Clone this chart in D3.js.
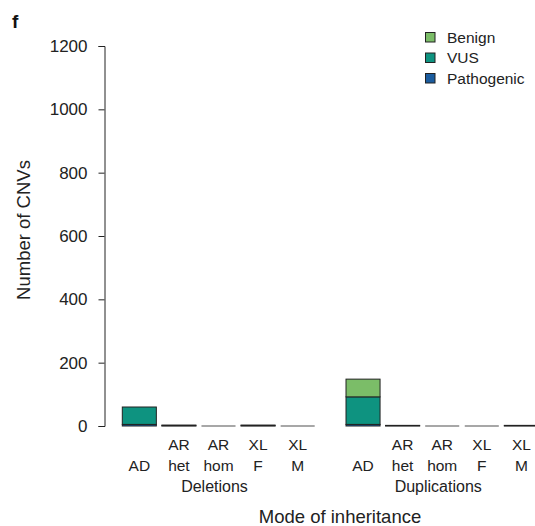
<!DOCTYPE html>
<html>
<head>
<meta charset="utf-8">
<script src="https://cdn.jsdelivr.net/npm/d3@7"></script>
<style>
  html, body { margin: 0; padding: 0; background: #fff; }
  svg { display: block; font-family: "Liberation Sans", Arial, Helvetica, sans-serif; }
</style>
</head>
<body>
<svg id="chart" width="535" height="526"></svg>
<script>
// CNV counts by mode of inheritance, split by deletion / duplication
const groups = ["Deletions", "Duplications"];
const modes = ["AD", "AR het", "AR hom", "XL F", "XL M"];
const modeLines = [["AD"], ["AR", "het"], ["AR", "hom"], ["XL", "F"], ["XL", "M"]];
const classes = ["Pathogenic", "VUS", "Benign"];
const pathogenic = { Deletions: [5, 1, 0, 1, 0], Duplications: [5, 1, 0, 0, 1] };
const vus        = { Deletions: [55, 2, 0, 2, 0], Duplications: [87, 1, 0, 0, 1] };
const benign     = { Deletions: [0, 0, 0, 0, 0], Duplications: [56, 0, 0, 0, 0] };
const yTicks = [0, 200, 400, 600, 800, 1000, 1200];
const colors = { Benign: "#7bbd68", VUS: "#0e9380", Pathogenic: "#1b5c9e" };

const svg = d3.select("#chart");
const ink = "#222";

const y = d3.scaleLinear().domain([0, 1200]).range([426, 46]);
const xGroup = d3.scaleBand().domain(groups).range([122.3, 538.4]).paddingInner(0.14);
const xMode = d3.scaleBand().domain(modes).range([0, xGroup.bandwidth()]).paddingInner(0.14);

// rows of stacked values
const rows = [];
groups.forEach(g => modes.forEach((m, i) => {
  rows.push({ group: g, mode: m, Pathogenic: pathogenic[g][i], VUS: vus[g][i], Benign: benign[g][i] });
}));
const stacked = d3.stack().keys(classes)(rows);

// y axis
const yAxis = svg.append("g")
  .attr("transform", "translate(104.5,0)")
  .call(d3.axisLeft(y).tickValues(yTicks).tickSize(6).tickPadding(11).tickFormat(d3.format("d")));
yAxis.select(".domain").attr("stroke", ink).attr("stroke-width", 1);
yAxis.selectAll(".tick line").attr("stroke", ink);
yAxis.selectAll(".tick text").attr("fill", ink).attr("font-size", 17).attr("font-family", null);

// baseline strokes for empty bars
svg.append("g").selectAll("line")
  .data(rows.filter(r => r.Pathogenic + r.VUS + r.Benign === 0))
  .join("line")
  .attr("x1", d => xGroup(d.group) + xMode(d.mode))
  .attr("x2", d => xGroup(d.group) + xMode(d.mode) + xMode.bandwidth())
  .attr("y1", y(0)).attr("y2", y(0))
  .attr("stroke", "#8a8a8a").attr("stroke-width", 1.4);

// stacked bars
svg.append("g").selectAll("g")
  .data(stacked)
  .join("g")
  .attr("fill", d => colors[d.key])
  .selectAll("rect")
  .data(d => d.filter(s => s[1] - s[0] > 0))
  .join("rect")
  .attr("x", d => xGroup(d.data.group) + xMode(d.data.mode))
  .attr("width", xMode.bandwidth())
  .attr("y", d => y(d[1]))
  .attr("height", d => y(d[0]) - y(d[1]))
  .attr("stroke", ink)
  .attr("stroke-width", 1);

// category labels
const lab = svg.append("g").attr("fill", ink).attr("text-anchor", "middle");
groups.forEach(g => {
  modes.forEach((m, i) => {
    const cx = xGroup(g) + xMode(m) + xMode.bandwidth() / 2;
    const lines = modeLines[i];
    lines.forEach((t, j) => {
      const row = lines.length === 1 ? 1 : j;
      lab.append("text").attr("x", cx).attr("y", 450 + row * 21)
        .attr("font-size", 15.5).text(t);
    });
  });
  lab.append("text")
    .attr("x", xGroup(g) + xGroup.bandwidth() / 2 - 4)
    .attr("y", 492)
    .attr("font-size", 16)
    .text(g);
});

// axis titles
svg.append("text")
  .attr("x", 340).attr("y", 523)
  .attr("text-anchor", "middle").attr("font-size", 18.5).attr("fill", ink)
  .text("Mode of inheritance");
svg.append("text")
  .attr("transform", "translate(30,230) rotate(-90)")
  .attr("text-anchor", "middle").attr("font-size", 18.5).attr("fill", ink)
  .text("Number of CNVs");

// panel letter
svg.append("text")
  .attr("x", 12).attr("y", 28)
  .attr("font-size", 19).attr("font-weight", "bold").attr("fill", "#111")
  .text("f");

// legend
const legend = svg.append("g").attr("transform", "translate(425.5,32.5)");
["Benign", "VUS", "Pathogenic"].forEach((k, i) => {
  const row = legend.append("g").attr("transform", `translate(0,${i * 20.5})`);
  row.append("rect").attr("width", 9.5).attr("height", 9.5)
    .attr("fill", colors[k]).attr("stroke", ink).attr("stroke-width", 1);
  row.append("text").attr("x", 21.5).attr("y", 10)
    .attr("font-size", 15.5).attr("fill", ink).text(k);
});
</script>
</body>
</html>
